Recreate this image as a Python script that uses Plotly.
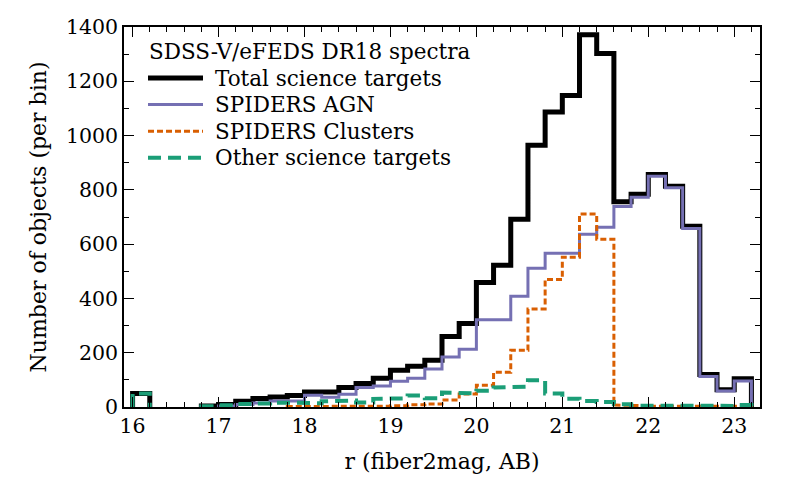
import plotly.graph_objects as go

# histogram bins (lower edges, width 0.2 mag)
bin_lo = [16.0, 16.2, 16.4, 16.6, 16.8, 17.0, 17.2, 17.4, 17.6, 17.8,
          18.0, 18.2, 18.4, 18.6, 18.8, 19.0, 19.2, 19.4, 19.6, 19.8,
          20.0, 20.2, 20.4, 20.6, 20.8, 21.0, 21.2, 21.4, 21.6, 21.8,
          22.0, 22.2, 22.4, 22.6, 22.8, 23.0]
bin_width = 0.2

total = [50, None, None, None, 4, 9, 21, 31, 37, 42,
         55, 55, 72, 87, 106, 135, 150, 172, 260, 308,
         459, 522, 692, 964, 1087, 1148, 1371, 1302, 756, 784,
         857, 813, 666, 120, 64, 104]
agn = [None, None, None, None, None, 4, 9, 15, 22, 22,
       43, 36, 47, 72, 77, 95, 106, 140, 184, 213,
       321, 321, 408, 511, 566, 566, 636, 662, 739, 773,
       850, 808, 658, 112, 59, 96]
clusters = [None, None, None, None, None, None, None, None, None, 2,
            2, 2, 2, 2, 3, 5, 8, 11, 26, 48,
            80, 128, 209, 361, 470, 552, 711, 618, 7, 5,
            3, 3, 3, 3, 3, 3]
other = [50, None, None, None, 3, 6, 11, 13, 16, 16,
         14, 21, 24, 17, 30, 32, 42, 32, 53, 50,
         60, 72, 75, 99, 50, 30, 22, 18, 10, 5,
         4, 3, 2, 3, 4, 7]

series = [
    ("Total science targets", total, dict(color="black", width=5)),
    ("SPIDERS AGN", agn, dict(color="#7570b3", width=3)),
    ("SPIDERS Clusters", clusters, dict(color="#d95f02", width=3, dash="6px,3px")),
    ("Other science targets", other, dict(color="#1b9e77", width=4, dash="13px,7px")),
]

FONT = "DejaVu Serif"


def step_path(lo, counts, w):
    # outline of a histogram, dropping to zero around runs of empty bins
    xs, ys = [], []
    prev = None
    for x0, c in zip(lo, counts):
        if c is None:
            if prev is not None:
                xs += [x0, x0, None]
                ys += [prev, 0, None]
            prev = None
            continue
        if prev is None:
            xs += [x0]
            ys += [0]
        xs += [x0, x0 + w]
        ys += [c, c]
        prev = c
    if prev is not None:
        xs += [lo[-1] + w]
        ys += [0]
    return xs, ys


fig = go.Figure()
for name, counts, line in series:
    xs, ys = step_path(bin_lo, counts, bin_width)
    fig.add_trace(go.Scatter(x=xs, y=ys, mode="lines", name=name, line=line,
                             connectgaps=False, showlegend=False))

# page body has an 8px margin, so the figure is 792x472 placed at (8, 8)
OFF = 8
W, H = 800 - OFF, 480 - OFF
# plot area on the 800x480 screen
L, R, T, B = 124, 760, 27, 407
def px(x):
    return (x - L) / (R - L)
def py(y):
    return (B - y) / (B - T)

annotations = [dict(text="SDSS-V/eFEDS DR18 spectra", x=px(148), y=py(52), xshift=-1,
                    xref="paper", yref="paper", xanchor="left", yanchor="middle",
                    showarrow=False, font=dict(family=FONT, size=21.5, color="black"))]
shapes = []
for i, (name, counts, line) in enumerate(series):
    yy = 78 + i * 26.6
    shapes.append(dict(type="line", xref="paper", yref="paper",
                       x0=px(148), x1=px(203), y0=py(yy), y1=py(yy), line=line))
    annotations.append(dict(text=name, x=px(213), y=py(yy), xref="paper", yref="paper",
                            xanchor="left", yanchor="middle", showarrow=False,
                            font=dict(family=FONT, size=21.5, color="black")))

axis_common = dict(
    showline=True, linecolor="black", linewidth=1.5, mirror="ticks",
    ticks="inside", ticklen=10, tickwidth=1, tickcolor="black",
    showgrid=False, zeroline=False, automargin=False,
    tickfont=dict(family=FONT, size=20.5, color="black"),
)

fig.update_layout(
    width=W, height=H,
    margin=dict(l=L - OFF, r=800 - R, t=T - OFF, b=480 - B),
    plot_bgcolor="white", paper_bgcolor="white",
    showlegend=False,
    font=dict(family=FONT, color="black"),
    shapes=shapes,
    annotations=annotations,
    xaxis=dict(range=[15.9, 23.3], dtick=1, tick0=16,
               minor=dict(dtick=0.2, ticks="inside", ticklen=5, tickcolor="black"),
               title=dict(text="r (fiber2mag, AB)", font=dict(family=FONT, size=22, color="black"),
                          standoff=16),
               **axis_common),
    yaxis=dict(range=[0, 1400], dtick=200, tick0=0,
               minor=dict(dtick=100, ticks="inside", ticklen=5, tickcolor="black"),
               title=dict(text="Number of objects (per bin)",
                          font=dict(family=FONT, size=22, color="black"), standoff=13),
               **axis_common),
)

fig.write_html("out.html")
